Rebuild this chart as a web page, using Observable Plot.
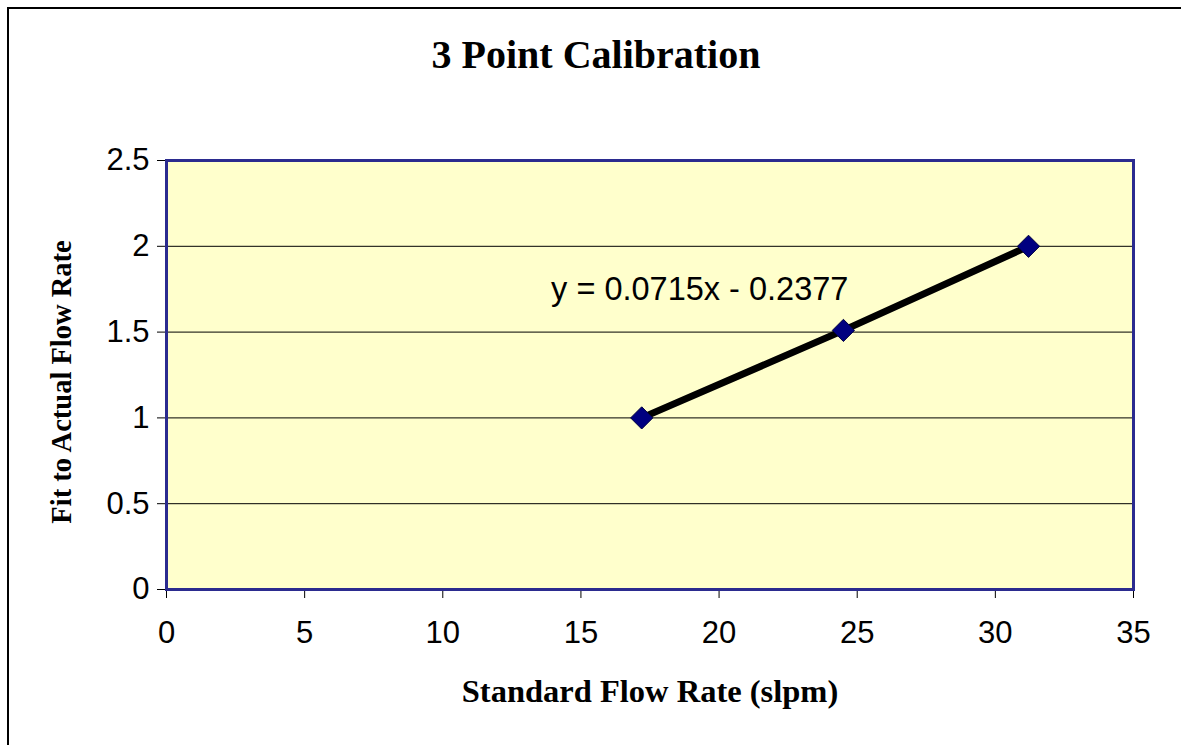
<!DOCTYPE html>
<html>
<head>
<meta charset="utf-8">
<script src="https://cdn.jsdelivr.net/npm/d3@7"></script>
<script src="https://cdn.jsdelivr.net/npm/@observablehq/plot@0.6"></script>
<style>
  html, body { margin: 0; padding: 0; background: #fff; }
  #frame { position: absolute; left: 7px; top: 7px; width: 1180px; height: 745px;
           border-left: 2px solid #000; border-top: 2px solid #000; box-sizing: border-box; }
  #chart { position: absolute; left: 0; top: 0; width: 1181px; }
  #title { height: 120px; box-sizing: border-box; padding-top: 35px; padding-left: 11px;
           text-align: center; font-family: "Liberation Serif", "Times New Roman", serif;
           font-weight: bold; font-size: 40px; line-height: 40px; color: #000; }
  svg { display: block; }
</style>
</head>
<body>
<div id="frame"></div>
<div id="chart"><div id="title">3 Point Calibration</div></div>
<script>
// Data
const standardFlow = [17.2, 24.5, 31.2];
const actualFit = [1.0, 1.51, 2.0];
const xTicks = [0, 5, 10, 15, 20, 25, 30, 35];
const yTicks = [0, 0.5, 1, 1.5, 2, 2.5];
const equationText = ["y = 0.0715x - 0.2377"];
const equationPos = [{x: 19.3, y: 1.745}];

const points = standardFlow.map((x, i) => ({x, y: actualFit[i]}));

const sans = "'Liberation Sans', Arial, sans-serif";
const serif = "'Liberation Serif', 'Times New Roman', serif";

const plot = Plot.plot({
  width: 1181,
  height: 625,
  marginLeft: 166,
  marginRight: 48,
  marginTop: 40,
  marginBottom: 156,
  style: {background: "transparent", fontFamily: sans, overflow: "visible"},
  x: {domain: [0, 35], ticks: xTicks},
  y: {domain: [0, 2.5], ticks: yTicks},
  marks: [
    Plot.frame({fill: "#FFFFCC", stroke: null}),
    Plot.gridY(yTicks.filter(d => d > 0 && d < 2.5), {stroke: "#000", strokeOpacity: 1, strokeWidth: 1}),
    Plot.axisY({ticks: yTicks, tickFormat: d => String(d), tickSize: 9, tickPadding: 8, fontSize: 31, stroke: "#000",
      label: "Fit to Actual Flow Rate", labelAnchor: "center", labelArrow: "none", labelOffset: 116}),
    Plot.axisX({ticks: xTicks, tickSize: 9, tickPadding: 22, fontSize: 31, stroke: "#000",
      label: "Standard Flow Rate (slpm)", labelAnchor: "center", labelArrow: "none", labelOffset: 112}),
    Plot.frame({stroke: "#2B2B8F", strokeWidth: 3}),
    Plot.line(points, {x: "x", y: "y", stroke: "#000", strokeWidth: 7}),
    Plot.dot(points, {x: "x", y: "y", symbol: "diamond2", r: 10, fill: "#000080", stroke: "#000040", strokeWidth: 1}),
    Plot.text(equationPos, {x: "x", y: "y", text: () => equationText[0], fontSize: 32.5, fontFamily: sans, fill: "#000", textAnchor: "middle"})
  ]
});

// Style axis labels as bold serif
const setLabel = (sel, size) => plot.querySelectorAll(sel).forEach(t => {
  t.setAttribute("font-family", serif);
  t.setAttribute("font-weight", "bold");
  t.setAttribute("font-size", size);
  t.style.fontFamily = serif;
  t.style.fontWeight = "bold";
  t.style.fontSize = size + "px";
});
setLabel("g[aria-label='x-axis label'] text", 32.5);
setLabel("g[aria-label='y-axis label'] text", 28.5);
const yLab = plot.querySelector("g[aria-label='y-axis label']");
if (yLab) {
  const tr = yLab.getAttribute("transform") || "";
  yLab.setAttribute("transform", ("translate(0,7) " + tr).trim());
}
document.getElementById("chart").appendChild(plot);
</script>
</body>
</html>
